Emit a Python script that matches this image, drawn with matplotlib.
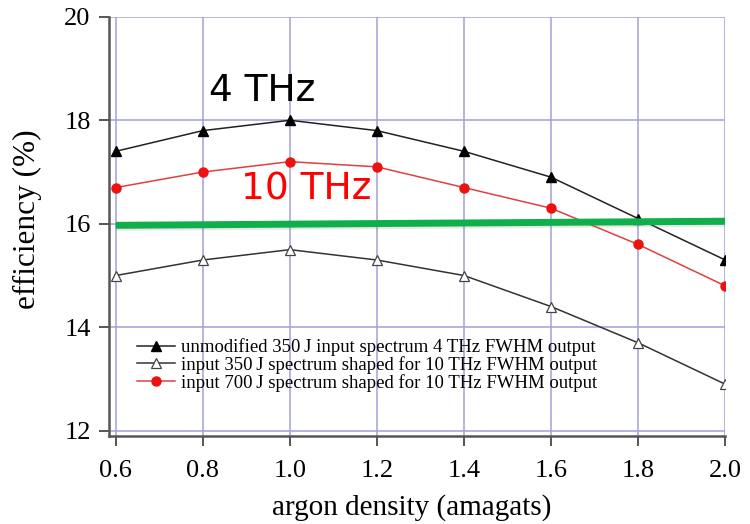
import matplotlib
matplotlib.use("Agg")
import matplotlib.pyplot as plt
import matplotlib.patheffects as pe

# argon density (amagats) and conversion efficiency (%)
density = [0.6, 0.8, 1.0, 1.2, 1.4, 1.6, 1.8, 2.0]
eff_4thz_350 = [17.4, 17.8, 18.0, 17.8, 17.4, 16.9, 16.1, 15.3]
eff_10thz_350 = [15.0, 15.3, 15.5, 15.3, 15.0, 14.4, 13.7, 12.9]
eff_10thz_700 = [16.7, 17.0, 17.2, 17.1, 16.7, 16.3, 15.6, 14.8]

labels = [
    "unmodified 350\u2009J input spectrum 4 THz FWHM output",
    "input 350\u2009J spectrum shaped for 10 THz FWHM output",
    "input 700\u2009J spectrum shaped for 10 THz FWHM output",
]

# reference level drawn across the plot
ref_x = [0.6, 2.0]
ref_y = [15.97, 16.05]

xticks = [0.6, 0.8, 1.0, 1.2, 1.4, 1.6, 1.8, 2.0]
yticks = [12, 14, 16, 18, 20]

serif = ["Liberation Serif", "DejaVu Serif"]

fig = plt.figure(figsize=(7.5, 5.24), dpi=100)
ax = fig.add_axes([0.145, 0.168, 0.822, 0.8])

grid_c = "#a0a0d4"
for x in xticks:
    ax.axvline(x, color=grid_c, lw=1.1, zorder=0)
for y in yticks:
    ax.axhline(y, color=grid_c, lw=1.1, zorder=0)

ax.plot(density, eff_4thz_350, color="#222222", lw=1.1, marker="^", ms=6.5,
        mfc="black", mec="black", label=labels[0], zorder=3)
ax.plot(density, eff_10thz_350, color="#333333", lw=1.1, marker="^", ms=6.5,
        mfc="white", mec="#444444", mew=0.9, label=labels[1], zorder=3)
ax.plot(density, eff_10thz_700, color="#e04040", lw=1.1, marker="o", ms=6.5,
        mfc="#ee1111", mec="#ee1111", label=labels[2], zorder=3)

ax.plot(ref_x, ref_y, color="#0fb04c", lw=5, solid_capstyle="butt", zorder=4,
        path_effects=[pe.SimpleLineShadow(offset=(0, -1.5), shadow_color="gray", alpha=0.18),
                      pe.Normal()])

ax.text(0.936, 18.57, "4 THz", color="black", fontsize=27, ha="center", va="center",
        family="DejaVu Sans")
ax.text(1.037, 16.66, "10 THz", color="#ff0000", fontsize=27, ha="center", va="center",
        family="DejaVu Sans")

ax.set_xlim(0.584, 2.0)
ax.set_ylim(11.9, 20)
ax.set_xticks(xticks)
ax.set_xticklabels([f"{v:.1f}" for v in xticks])
ax.set_yticks(yticks)

for side in ("top", "right"):
    ax.spines[side].set_visible(False)
for side in ("left", "bottom"):
    ax.spines[side].set_color("#555555")
    ax.spines[side].set_linewidth(1.8)

ax.tick_params(direction="out", length=7, width=1.4, color="#555555", labelsize=19)
ax.tick_params(axis="x", pad=10)
ax.tick_params(axis="y", pad=6)
for lab in ax.get_xticklabels() + ax.get_yticklabels():
    lab.set_family(serif)

ax.set_xlabel("argon density (amagats)", fontsize=21, family=serif)
ax.set_ylabel("efficiency (%)", fontsize=22.5, family=serif)
ax.xaxis.set_label_coords(0.492, -0.138)
ax.yaxis.set_label_coords(-0.108, 0.518)

leg = ax.legend(loc="lower left", bbox_to_anchor=(0.025, 0.074), frameon=False,
                prop={"family": serif, "size": 13.5}, handlelength=2.0,
                handletextpad=0.35, labelspacing=0.0, borderpad=0.2)

fig.savefig("out.png", dpi=100)
